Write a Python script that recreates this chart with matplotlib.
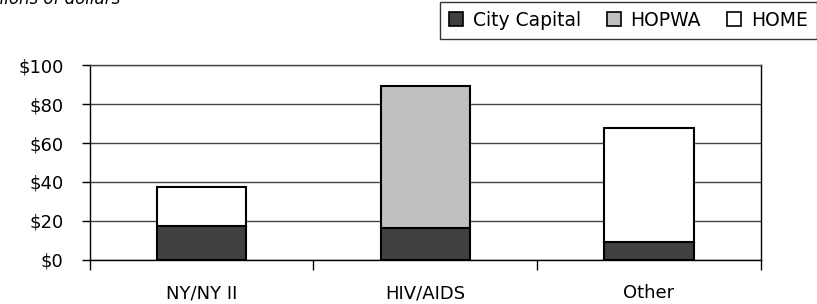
import numpy as np
import matplotlib.pyplot as plt
from matplotlib.patches import Patch

categories = ["NY/NY II", "HIV/AIDS", "Other"]
city_capital = [17.5, 16.3, 9.4]
hopwa = [0, 73.1, 0]
home = [20.1, 0, 58.1]

series = ["City Capital", "HOPWA", "HOME"]
colors = ["#404040", "#c0c0c0", "white"]

fig = plt.figure(figsize=(8.17, 3.04), dpi=100)
ax = fig.add_axes([0.110, 0.145, 0.821, 0.641])

x = np.arange(len(categories))
w = 0.40
bottom = np.zeros(len(categories))
for vals, col in zip([city_capital, hopwa, home], colors):
    vals = np.array(vals)
    keep = vals > 0
    ax.bar(x[keep], vals[keep], w, bottom=bottom[keep], color=col,
           edgecolor="black", linewidth=1.5, zorder=3)
    bottom += vals

ax.set_xlim(-0.5, 2.5)
ax.set_ylim(0, 100)
ax.set_yticks([0, 20, 40, 60, 80, 100])
ax.set_yticklabels(["$0", "$20", "$40", "$60", "$80", "$100"], fontsize=13)
ax.yaxis.grid(True, color="#444444", linewidth=1, zorder=0)

ax.set_xticks([-0.5, 0.5, 1.5, 2.5])
ax.set_xticklabels([])
ax.tick_params(axis="x", direction="out", length=7, width=1)
ax.tick_params(axis="y", direction="out", length=6, width=1, pad=13)
for i, c in enumerate(categories):
    ax.text(i, -0.17, c, transform=ax.get_xaxis_transform(), ha="center",
            va="center", fontsize=13)

for s in ["top", "right", "left", "bottom"]:
    ax.spines[s].set_linewidth(1)
ax.spines["top"].set_color("#444444")

handles = [Patch(facecolor=c, edgecolor="black", linewidth=1.2) for c in colors]
leg = fig.legend(handles, series, loc="upper right", bbox_to_anchor=(1.0, 0.995),
                 borderaxespad=0, ncol=3, fontsize=13.5, frameon=True,
                 fancybox=False, edgecolor="black", handlelength=0.75,
                 handleheight=0.75, handletextpad=0.5, columnspacing=1.4,
                 borderpad=0.5)
leg.get_frame().set_linewidth(1)

fig.text(0.147, 0.987, "Millions of dollars", ha="right", va="baseline",
         fontsize=12, style="italic")

fig.savefig("out.png", dpi=100)
